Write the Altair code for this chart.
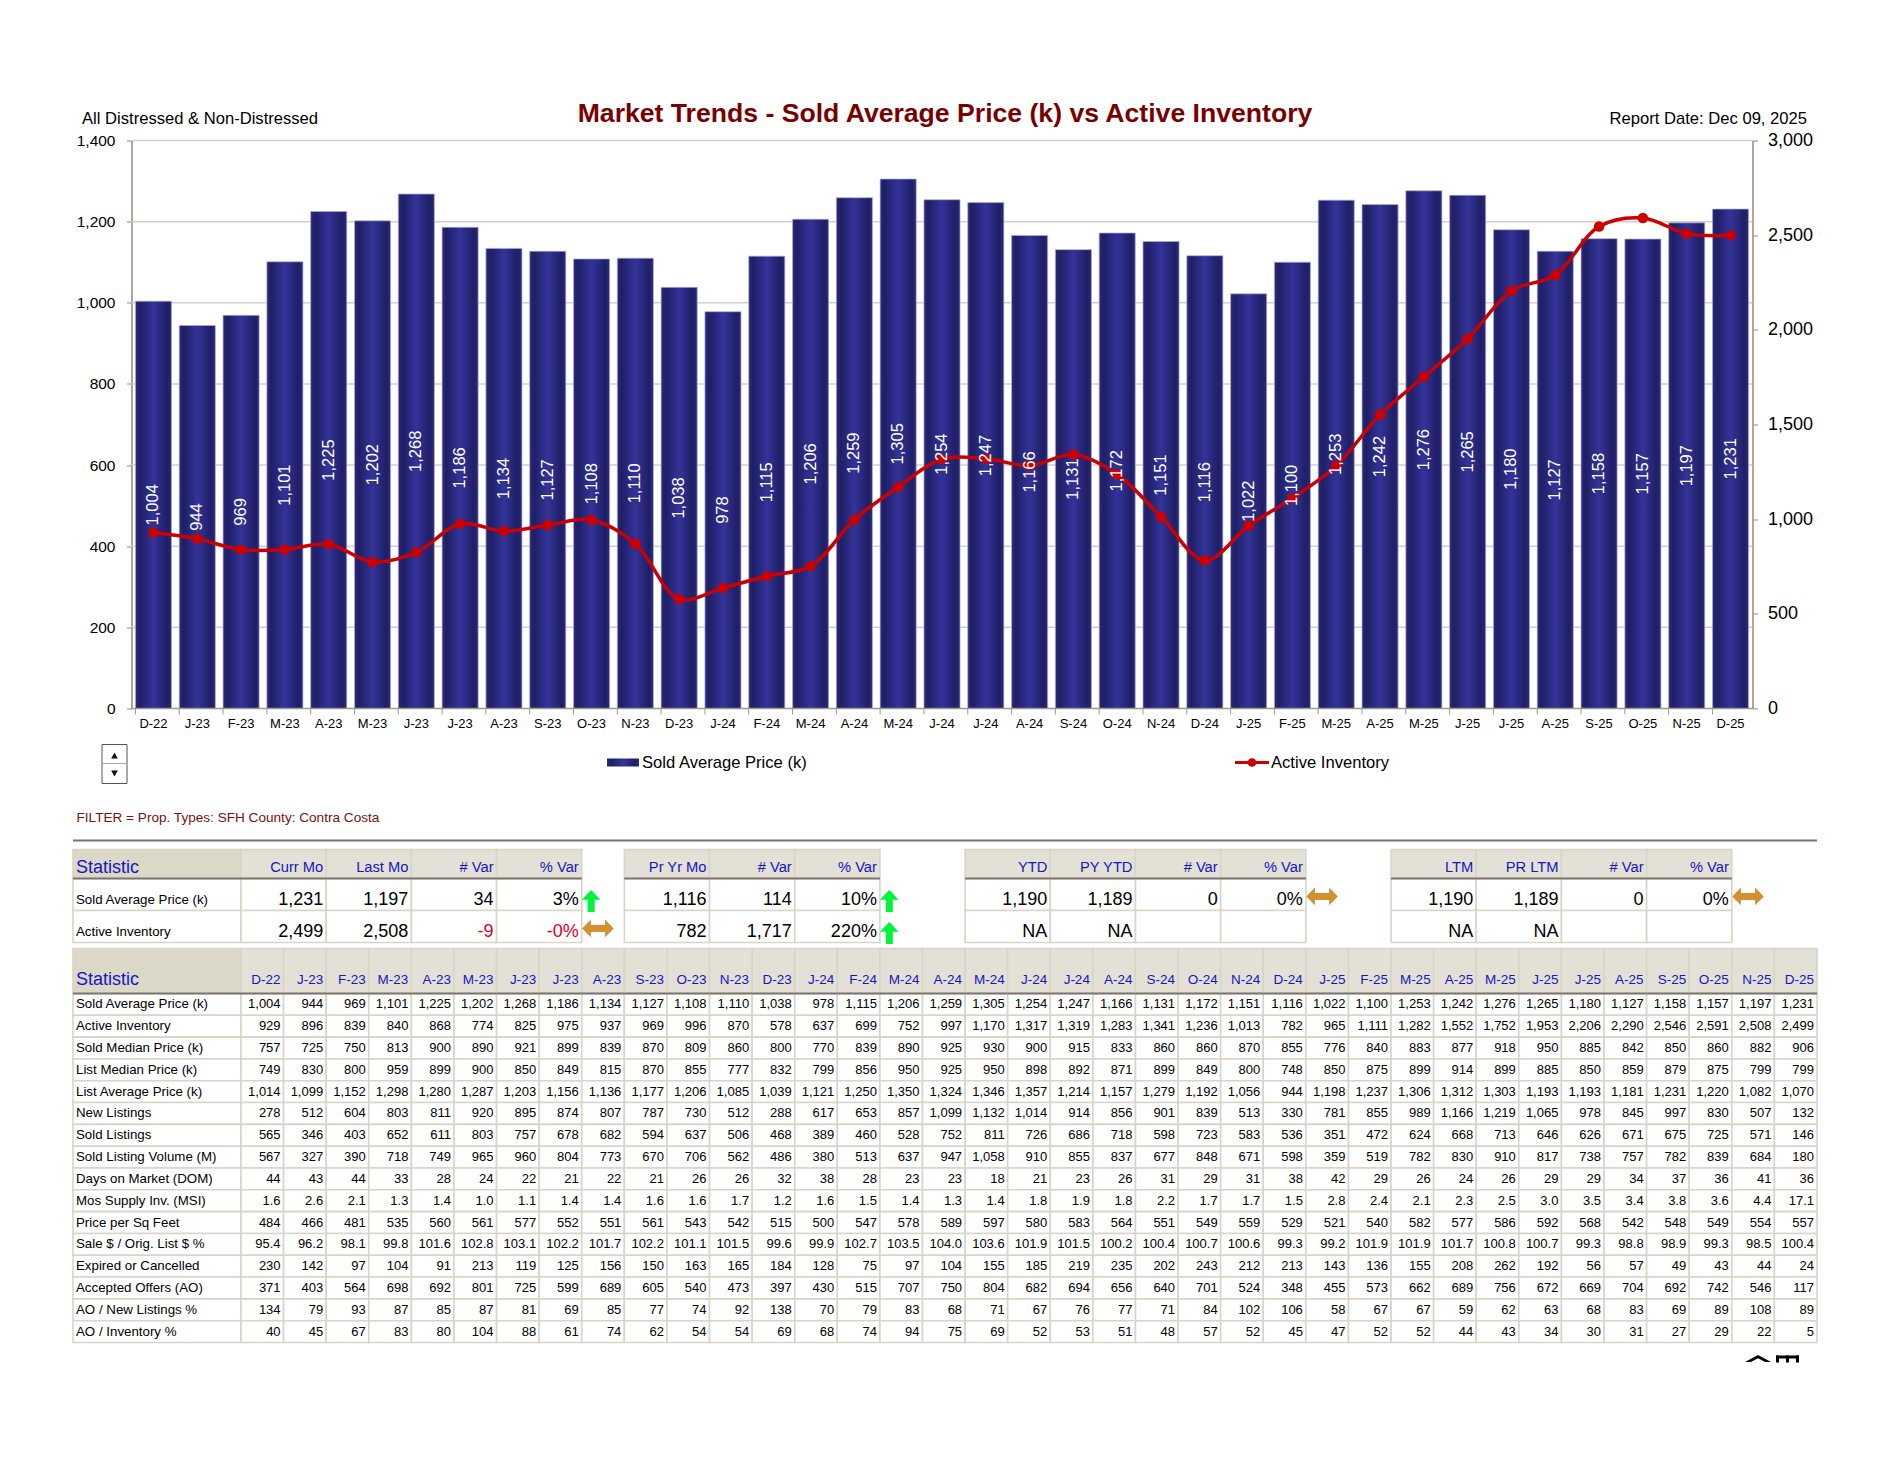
import altair as alt
import pandas as pd

months = ["D-22","J-23","F-23","M-23","A-23","M-23","J-23","J-23","A-23","S-23","O-23","N-23",
          "D-23","J-24","F-24","M-24","A-24","M-24","J-24","J-24","A-24","S-24","O-24","N-24",
          "D-24","J-25","F-25","M-25","A-25","M-25","J-25","J-25","A-25","S-25","O-25","N-25","D-25"]
sold_avg = [1004,944,969,1101,1225,1202,1268,1186,1134,1127,1108,1110,1038,978,1115,1206,1259,1305,1254,1247,1166,1131,1172,1151,1116,1022,1100,1253,1242,1276,1265,1180,1127,1158,1157,1197,1231]
active_inv = [929,896,839,840,868,774,825,975,937,969,996,870,578,637,699,752,997,1170,1317,1319,1283,1341,1236,1013,782,965,1111,1282,1552,1752,1953,2206,2290,2546,2591,2508,2499]
sold_median = [757,725,750,813,900,890,921,899,839,870,809,860,800,770,839,890,925,930,900,915,833,860,860,870,855,776,840,883,877,918,950,885,842,850,860,882,906]
list_median = [749,830,800,959,899,900,850,849,815,870,855,777,832,799,856,950,925,950,898,892,871,899,849,800,748,850,875,899,914,899,885,850,859,879,875,799,799]
list_avg = [1014,1099,1152,1298,1280,1287,1203,1156,1136,1177,1206,1085,1039,1121,1250,1350,1324,1346,1357,1214,1157,1279,1192,1056,944,1198,1237,1306,1312,1303,1193,1193,1181,1231,1220,1082,1070]
new_listings = [278,512,604,803,811,920,895,874,807,787,730,512,288,617,653,857,1099,1132,1014,914,856,901,839,513,330,781,855,989,1166,1219,1065,978,845,997,830,507,132]
sold_listings = [565,346,403,652,611,803,757,678,682,594,637,506,468,389,460,528,752,811,726,686,718,598,723,583,536,351,472,624,668,713,646,626,671,675,725,571,146]
sold_volume = [567,327,390,718,749,965,960,804,773,670,706,562,486,380,513,637,947,1058,910,855,837,677,848,671,598,359,519,782,830,910,817,738,757,782,839,684,180]
dom = [44,43,44,33,28,24,22,21,22,21,26,26,32,38,28,23,23,18,21,23,26,31,29,31,38,42,29,26,24,26,29,29,34,37,36,41,36]
msi = [1.6,2.6,2.1,1.3,1.4,1.0,1.1,1.4,1.4,1.6,1.6,1.7,1.2,1.6,1.5,1.4,1.3,1.4,1.8,1.9,1.8,2.2,1.7,1.7,1.5,2.8,2.4,2.1,2.3,2.5,3.0,3.5,3.4,3.8,3.6,4.4,17.1]
ppsf = [484,466,481,535,560,561,577,552,551,561,543,542,515,500,547,578,589,597,580,583,564,551,549,559,529,521,540,582,577,586,592,568,542,548,549,554,557]
sale_orig = [95.4,96.2,98.1,99.8,101.6,102.8,103.1,102.2,101.7,102.2,101.1,101.5,99.6,99.9,102.7,103.5,104.0,103.6,101.9,101.5,100.2,100.4,100.7,100.6,99.3,99.2,101.9,101.9,101.7,100.8,100.7,99.3,98.8,98.9,99.3,98.5,100.4]
expired = [230,142,97,104,91,213,119,125,156,150,163,165,184,128,75,97,104,155,185,219,235,202,243,212,213,143,136,155,208,262,192,56,57,49,43,44,24]
accepted = [371,403,564,698,692,801,725,599,689,605,540,473,397,430,515,707,750,804,682,694,656,640,701,524,348,455,573,662,689,756,672,669,704,692,742,546,117]
ao_new = [134,79,93,87,85,87,81,69,85,77,74,92,138,70,79,83,68,71,67,76,77,71,84,102,106,58,67,67,59,62,63,68,83,69,89,108,89]
ao_inv = [40,45,67,83,80,104,88,61,74,62,54,54,69,68,74,94,75,69,52,53,51,48,57,52,45,47,52,52,44,43,34,30,31,27,29,22,5]

stat_rows = [
    ("Sold Average Price (k)", sold_avg), ("Active Inventory", active_inv),
    ("Sold Median Price (k)", sold_median), ("List Median Price (k)", list_median),
    ("List Average Price (k)", list_avg), ("New Listings", new_listings),
    ("Sold Listings", sold_listings), ("Sold Listing Volume (M)", sold_volume),
    ("Days on Market (DOM)", dom), ("Mos Supply Inv. (MSI)", msi),
    ("Price per Sq Feet", ppsf), ("Sale $ / Orig. List $ %", sale_orig),
    ("Expired or Cancelled", expired), ("Accepted Offers (AO)", accepted),
    ("AO / New Listings %", ao_new), ("AO / Inventory %", ao_inv),
]

summary_rows = ["Sold Average Price (k)", "Active Inventory"]
summary_groups = [
    (["Curr Mo","Last Mo","# Var","% Var"], [["1,231","1,197","34","3%"],["2,499","2,508","-9","-0%"]]),
    (["Pr Yr Mo","# Var","% Var"], [["1,116","114","10%"],["782","1,717","220%"]]),
    (["YTD","PY YTD","# Var","% Var"], [["1,190","1,189","0","0%"],["NA","NA","",""]]),
    (["LTM","PR LTM","# Var","% Var"], [["1,190","1,189","0","0%"],["NA","NA","",""]]),
]
summary_arrows = [["up","both"],["up","up"],["both",None],["both",None]]

FONT = "Liberation Sans"
PANEL_W = 1744
BLUE = "#1515c4"
HDR_FILL = "#e3e0d5"
STAT_FILL = "#dcd8c8"
BORDER = "#d8d5c6"
DARK_LINE = "#7d736c"
BAR_GRAD = {"gradient": "linear", "x1": 0, "x2": 1, "y1": 0, "y2": 0,
            "stops": [{"offset": 0, "color": "#2a2a78"}, {"offset": 0.12, "color": "#1f1f66"},
                      {"offset": 0.5, "color": "#333399"},
                      {"offset": 0.88, "color": "#1f1f66"}, {"offset": 1, "color": "#2a2a78"}]}
ARROW_UP = "M0,-1 L0.85,-0.1 L0.32,-0.1 L0.32,1 L-0.32,1 L-0.32,-0.1 L-0.85,-0.1 Z"
ARROW_BOTH = "M-1,0 L-0.45,-0.56 L-0.45,-0.22 L0.45,-0.22 L0.45,-0.56 L1,0 L0.45,0.56 L0.45,0.22 L-0.45,0.22 L-0.45,0.56 Z"
CHEVRON = "M-1,0.27 L0,-0.27 L1,0.27 L0.55,0.27 L0,-0.02 L-0.55,0.27 Z"


def note(text, x, y, size, color="#000000", font=FONT, align="left", bold=False):
    return alt.Chart(alt.Data(values=[{"label": text}])).mark_text(
        font=font, fontSize=size, color=color, align=align, baseline="middle",
        fontWeight="bold" if bold else "normal",
    ).encode(x=alt.value(x), y=alt.value(y), text="label:N")


def box(x0, x1, y0, y1, fill, stroke=None, width=1):
    kw = {"stroke": stroke, "strokeWidth": width} if stroke else {}
    return alt.Chart(alt.Data(values=[{}])).mark_rect(fill=fill, **kw).encode(
        x=alt.value(x0), x2=alt.value(x1), y=alt.value(y0), y2=alt.value(y1))


def glyph(path, x, y, size, color):
    return alt.Chart(alt.Data(values=[{}])).mark_point(
        shape=path, size=size, filled=True, color=color, opacity=1, strokeWidth=0,
    ).encode(x=alt.value(x), y=alt.value(y))


# ---------- main chart ----------
main_df = pd.DataFrame({"idx": list(range(len(months))), "price": sold_avg,
                        "inv": active_inv,
                        "mid": [v / 2 for v in sold_avg],
                        "txt": [f"{v:,}" for v in sold_avg]})
label_expr = "[" + ",".join(f"'{m}'" for m in months) + "][datum.value]"
PLOT_L, PLOT_R = 58.5, 1679.5
x_scale = alt.Scale(range=[PLOT_L, PLOT_R], paddingInner=0.176, paddingOuter=0.09)
x_main = alt.X("idx:O", scale=x_scale, title=None,
               axis=alt.Axis(labelExpr=label_expr, labelAngle=0, ticks=False, domain=False,
                             labelFont=FONT, labelFontSize=13, labelColor="#000000",
                             labelPadding=9, grid=False))
y_left = alt.Scale(domain=[0, 1400], nice=False)
y_right = alt.Scale(domain=[0, 3000], nice=False)
NUM_LABEL = "format(datum.value, ',')"
axis_left = alt.Axis(values=list(range(0, 1401, 200)), offset=-PLOT_L, grid=False, labelExpr=NUM_LABEL,
                     labelFont=FONT, labelFontSize=15.5, labelColor="#000000",
                     domainColor="#8f8b7d", domainWidth=1.5, tickColor="#8f8b7d",
                     tickSize=5, labelPadding=11.5, title=None)
axis_right = alt.Axis(values=list(range(0, 3001, 500)), orient="right",
                      offset=-(PANEL_W - PLOT_R), grid=False, labelExpr=NUM_LABEL,
                      labelFont=FONT, labelFontSize=18, labelColor="#000000",
                      domainColor="#8f8b7d", domainWidth=1.5, tickColor="#8f8b7d",
                      tickSize=5, labelPadding=10, title=None)
grid_df = pd.DataFrame({"g": [200, 400, 600, 800, 1000, 1200, 1400]})

grid = alt.Chart(grid_df).mark_rule(color="#d2cfc4", strokeWidth=1.5).encode(
    y=alt.Y("g:Q", scale=y_left, axis=axis_left, title=None), x=alt.value(PLOT_L), x2=alt.value(PLOT_R))
bars = alt.Chart(main_df).mark_bar(color=BAR_GRAD, stroke="#aeaed6", strokeWidth=0.7).encode(
    x=x_main,
    y=alt.Y("price:Q", scale=y_left, axis=axis_left, title=None))
baseline = alt.Chart(alt.Data(values=[{"z": 0}])).mark_rule(color="#9d9a8c", strokeWidth=1.5).encode(
    y=alt.Y("z:Q", scale=y_left, axis=axis_left, title=None), x=alt.value(PLOT_L), x2=alt.value(PLOT_R))
ticks = alt.Chart(main_df).mark_rule(color="#9d9a8c", strokeWidth=1).encode(
    x=alt.X("idx:O", scale=x_scale, bandPosition=0, title=None),
    y=alt.value(568), y2=alt.value(574))
bar_text = alt.Chart(main_df).mark_text(
    angle=270, color="white", font=FONT, fontSize=16.5, baseline="middle", align="center").encode(
    x=alt.X("idx:O", scale=x_scale, title=None),
    y=alt.Y("mid:Q", scale=y_left, axis=None, title=None), text="txt:N")
left = alt.layer(grid, bars, baseline, ticks)

line = alt.Chart(main_df).mark_line(color="#cc0000", strokeWidth=3.5, interpolate="catmull-rom").encode(
    x=alt.X("idx:O", scale=x_scale, title=None),
    y=alt.Y("inv:Q", scale=y_right, axis=axis_right, title=None))
dots = alt.Chart(main_df).mark_circle(color="#cc0000", size=110, opacity=1).encode(
    x=alt.X("idx:O", scale=x_scale, title=None),
    y=alt.Y("inv:Q", scale=y_right, axis=axis_right, title=None))
right = alt.layer(line, dots)

main = alt.layer(
    left, right, bar_text,
    note("All Distressed & Non-Distressed", 9, -22, 16.6),
    note("Market Trends - Sold Average Price (k) vs Active Inventory", 872, -27, 26.6,
         color="#7a0000", align="center", bold=True),
    note("Report Date: Dec 09, 2025", 1734, -22, 16.6, align="right"),
).resolve_scale(y="independent").properties(width=PANEL_W, height=568)

# ---------- legend band ----------
band = alt.layer(
    box(534, 566, 44, 52, BAR_GRAD),
    note("Sold Average Price (k)", 569, 48, 16.6),
    alt.Chart(alt.Data(values=[{}])).mark_rule(color="#cc0000", strokeWidth=3).encode(
        x=alt.value(1162), x2=alt.value(1196), y=alt.value(48)),
    alt.Chart(alt.Data(values=[{}])).mark_point(filled=True, shape="circle", size=75, color="#cc0000", opacity=1).encode(
        x=alt.value(1179), y=alt.value(48)),
    note("Active Inventory", 1198, 48, 16.6),
    box(29, 54, 30, 69, "#ffffff", stroke="#555555", width=1),
    alt.Chart(alt.Data(values=[{}])).mark_rule(color="#aaaaaa", strokeWidth=1).encode(
        x=alt.value(29), x2=alt.value(54), y=alt.value(49)),
    glyph("triangle-up", 41.5, 41, 45, "#111111"),
    glyph("triangle-down", 41.5, 59, 45, "#111111"),
    note("FILTER = Prop. Types: SFH  County: Contra Costa", 3.5, 103, 13.6, color="#7a1010"),
    alt.Chart(alt.Data(values=[{}])).mark_rule(color=DARK_LINE, strokeWidth=2).encode(
        x=alt.value(0), x2=alt.value(PANEL_W), y=alt.value(126)),
).properties(width=PANEL_W, height=129)


# ---------- tables ----------
def table_layers(cells, texts, n_rows, header_px, total_px, extras=()):
    xs = alt.Scale(domain=[-1, 0, 37], range=[0, 168, PANEL_W], nice=False, zero=False)
    ys = alt.Scale(domain=[-1, 0, n_rows], range=[0, header_px, total_px], nice=False, zero=False)
    cdf = pd.DataFrame(cells)
    rects = alt.Chart(cdf).mark_rect(stroke=BORDER, strokeWidth=1.6).encode(
        x=alt.X("x0:Q", scale=xs, axis=None), x2="x1:Q",
        y=alt.Y("y0:Q", scale=ys, axis=None), y2="y1:Q",
        fill=alt.Fill("fill:N", scale=None))
    hdf = pd.DataFrame([c for c in cells if c["y0"] == -1])
    hline = alt.Chart(hdf).mark_rule(color=DARK_LINE, strokeWidth=2.2).encode(
        x=alt.X("x0:Q", scale=xs, axis=None), x2="x1:Q",
        y=alt.Y("y1:Q", scale=ys, axis=None))
    layers = [rects, hline]
    tdf = pd.DataFrame(texts)
    for (font, size, align), g in tdf.groupby(["font", "size", "align"]):
        layers.append(alt.Chart(g).mark_text(
            font=font, fontSize=size, align=align, baseline="middle",
            dx=3 if align == "left" else -3).encode(
            x=alt.X("tx:Q", scale=xs, axis=None), y=alt.Y("ty:Q", scale=ys, axis=None),
            text="label:N", color=alt.Color("color:N", scale=None)))
    for ex in extras:
        layers.append(ex(xs, ys))
    return alt.layer(*layers)


def fmt(v):
    return f"{v:.1f}" if isinstance(v, float) else f"{v:,}"


# summary table
s_cells, s_text, s_arrows = [], [], []
s_cells.append({"x0": -1, "x1": 0, "y0": -1, "y1": 0, "fill": STAT_FILL})
s_text.append({"tx": -1, "ty": -0.36, "label": "Statistic", "color": BLUE, "font": FONT, "size": 18, "align": "left"})
for r, name in enumerate(summary_rows):
    s_cells.append({"x0": -1, "x1": 0, "y0": r, "y1": r + 1, "fill": "#ffffff"})
    s_text.append({"tx": -1, "ty": r + 0.68, "label": name, "color": "#000000", "font": FONT, "size": 13.3, "align": "left"})
starts = [0, 9, 17, 27]
for (heads, vals), start, arrows in zip(summary_groups, starts, summary_arrows):
    for c, h in enumerate(heads):
        x0 = start + 2 * c
        s_cells.append({"x0": x0, "x1": x0 + 2, "y0": -1, "y1": 0, "fill": HDR_FILL})
        s_text.append({"tx": x0 + 2, "ty": -0.36, "label": h, "color": BLUE, "font": FONT, "size": 14.7, "align": "right"})
        for r in range(2):
            s_cells.append({"x0": x0, "x1": x0 + 2, "y0": r, "y1": r + 1, "fill": "#ffffff"})
            v = vals[r][c]
            if v:
                s_text.append({"tx": x0 + 2, "ty": r + 0.68, "label": v,
                               "color": "#e0002a" if v.startswith("-") else "#000000",
                               "font": FONT, "size": 18, "align": "right"})
    edge = start + 2 * len(heads)
    for r, a in enumerate(arrows):
        if a == "up":
            s_arrows.append({"x": edge + 0.22, "y": r + 0.7, "kind": a})
        elif a == "both":
            s_arrows.append({"x": edge + 0.38, "y": r + 0.56, "kind": a})


def arrow_layer(kind, path, size, color):
    def build(xs, ys):
        d = pd.DataFrame([a for a in s_arrows if a["kind"] == kind])
        return alt.Chart(d).mark_point(shape=path, size=size, filled=True, color=color,
                                       opacity=1, strokeWidth=0).encode(
            x=alt.X("x:Q", scale=xs, axis=None), y=alt.Y("y:Q", scale=ys, axis=None))
    return build


table1 = table_layers(s_cells, s_text, 2, 29, 93, extras=[
    arrow_layer("up", ARROW_UP, 484, "#00f53a"),
    arrow_layer("both", ARROW_BOTH, 1000, "#d2902f"),
]).properties(width=PANEL_W, height=93)

# monthly table
m_cells, m_text = [], []
m_cells.append({"x0": -1, "x1": 0, "y0": -1, "y1": 0, "fill": STAT_FILL})
m_text.append({"tx": -1, "ty": -0.29, "label": "Statistic", "color": BLUE, "font": FONT, "size": 18, "align": "left"})
for c, m in enumerate(months):
    m_cells.append({"x0": c, "x1": c + 1, "y0": -1, "y1": 0, "fill": HDR_FILL})
    m_text.append({"tx": c + 1, "ty": -0.29, "label": m, "color": BLUE, "font": FONT, "size": 13.5, "align": "right"})
for r, (name, vals) in enumerate(stat_rows):
    m_cells.append({"x0": -1, "x1": 0, "y0": r, "y1": r + 1, "fill": "#ffffff"})
    m_text.append({"tx": -1, "ty": r + 0.5, "label": name, "color": "#000000", "font": FONT, "size": 13.3, "align": "left"})
    for c, v in enumerate(vals):
        m_cells.append({"x0": c, "x1": c + 1, "y0": r, "y1": r + 1, "fill": "#ffffff"})
        m_text.append({"tx": c + 1, "ty": r + 0.5, "label": fmt(v), "color": "#000000", "font": FONT, "size": 13, "align": "right"})

table2 = alt.layer(
    table_layers(m_cells, m_text, 16, 45, 394),
    glyph(CHEVRON, 1685, 410, 676, "#000000"),
    box(1703, 1726, 407, 410, "#000000"),
    box(1703, 1706, 407, 414, "#000000"),
    box(1713, 1716, 407, 414, "#000000"),
    box(1723, 1726, 407, 414, "#000000"),
).properties(width=PANEL_W, height=394)

chart = alt.vconcat(
    main, band, table1, table2, spacing=6, bounds="flush",
    padding={"left": 63, "top": 92.5, "right": 50, "bottom": 80},
).configure(background="white", font=FONT).configure_view(stroke=None)

chart.save("out.html", embed_options={"renderer": "svg", "actions": False})
